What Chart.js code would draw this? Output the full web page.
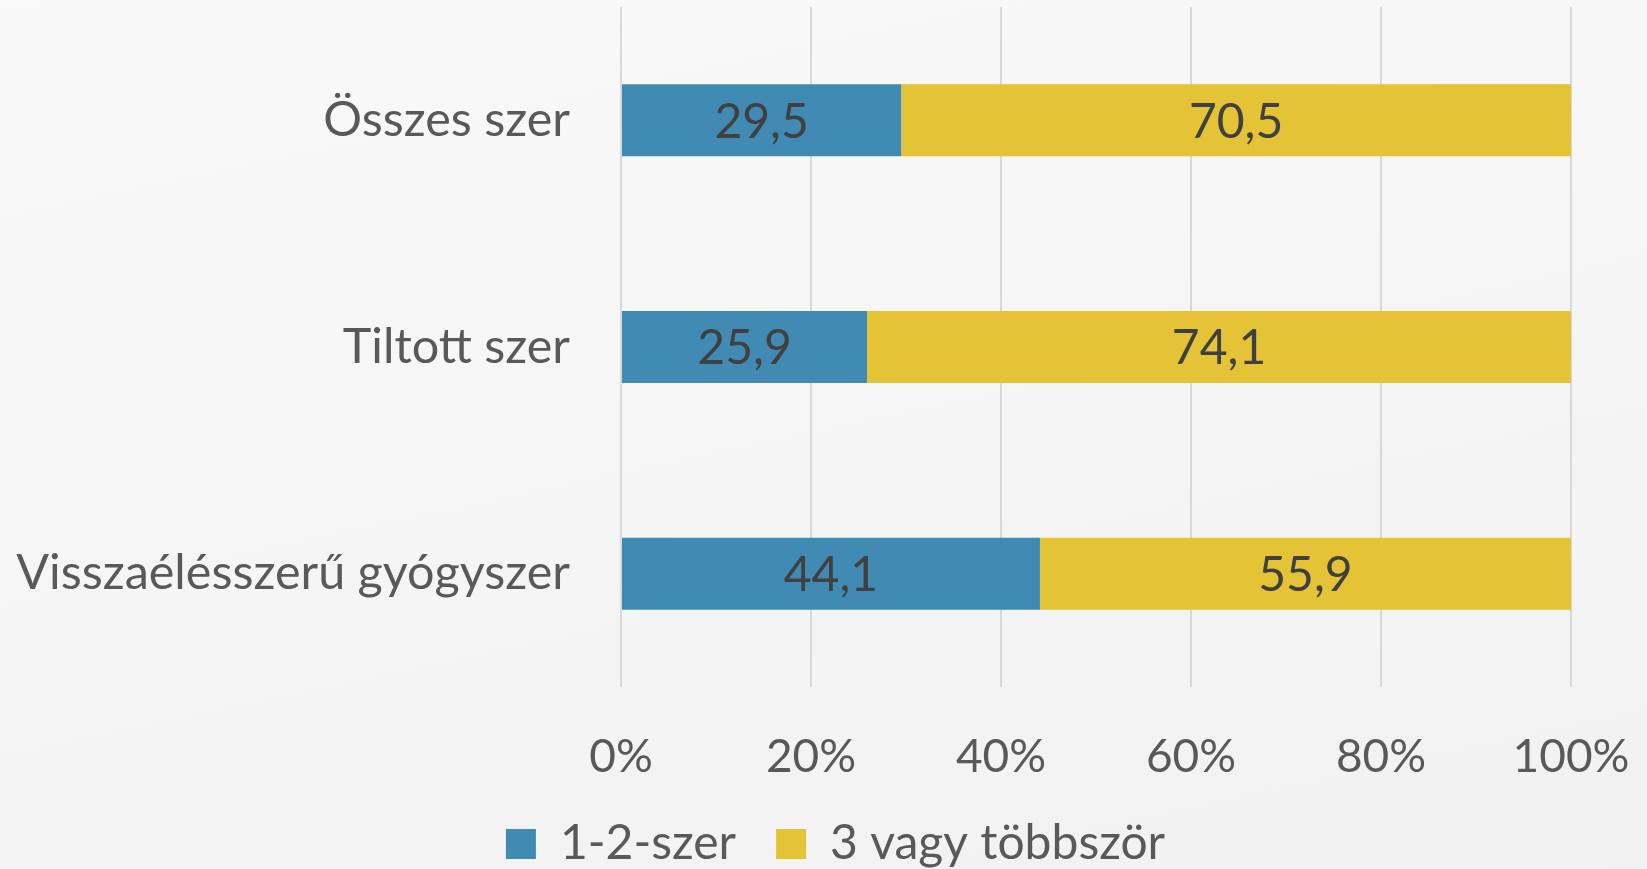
<!DOCTYPE html>
<html>
<head>
<meta charset="utf-8">
<script src="https://cdn.jsdelivr.net/npm/chart.js@4.4.1/dist/chart.umd.min.js"></script>
<style>
  html, body { margin: 0; padding: 0; overflow: hidden; }
  body { width: 1647px; height: 869px; background: linear-gradient(168deg, #f9f9f9 0%, #f6f6f6 45%, #f1f1f1 100%); }
  #wrap { position: relative; width: 1647px; height: 869px; overflow: hidden; }
</style>
</head>
<body>
<div id="wrap"><canvas id="chart"></canvas></div>
<script>
// data
var categories = ["Összes szer", "Tiltott szer", "Visszaélésszerű gyógyszer"];
var seriesNames = ["1-2-szer", "3 vagy többször"];
var onceOrTwice = [29.5, 25.9, 44.1];
var threeOrMore = [70.5, 74.1, 55.9];
var tickLabels = ["0%", "20%", "40%", "60%", "80%", "100%"];

var blue = "#418ab3";
var yellow = "#e5c336";
var textColor = "#595959";

// draws the values in the middle of each bar (comma decimals)
var valueLabels = {
  id: "valueLabels",
  afterDatasetsDraw: function(chart) {
    var ctx = chart.ctx;
    ctx.save();
    ctx.font = "48px Lato";
    ctx.fillStyle = "#404040";
    ctx.textAlign = "center";
    ctx.textBaseline = "middle";
    chart.data.datasets.forEach(function(ds, i) {
      chart.getDatasetMeta(i).data.forEach(function(bar, j) {
        var c = bar.getCenterPoint();
        ctx.fillText(ds.data[j].toFixed(1).replace(".", ","), c.x, c.y + 2);
      });
    });
    ctx.restore();
  }
};

// legend in the picture sits a bit right of the page centre
var legendShift = {
  id: "legendShift",
  afterLayout: function(chart) {
    chart.legend.left += 12;
    chart.legend.right += 12;
  }
};

var ctx = document.getElementById("chart");

var data = {
  labels: categories,
  datasets: [
    {
      label: seriesNames[0],
      data: onceOrTwice,
      backgroundColor: blue,
      borderWidth: 0,
      barPercentage: 0.318,
      categoryPercentage: 1
    },
    {
      label: seriesNames[1],
      data: threeOrMore,
      backgroundColor: yellow,
      borderWidth: 0,
      barPercentage: 0.318,
      categoryPercentage: 1
    }
  ]
};

var options = {
  indexAxis: "y",
  responsive: false,
  animation: false,
  layout: {
    padding: { top: 7, right: 0, bottom: 0, left: 0 }
  },
  scales: {
    x: {
      stacked: true,
      min: 0,
      max: 100,
      ticks: {
        stepSize: 20,
        maxRotation: 0,
        padding: 47,
        color: textColor,
        font: { family: "Lato", size: 46, lineHeight: 1 },
        callback: function(value, index) { return tickLabels[index]; }
      },
      grid: { color: "#d9d9d9", lineWidth: 2, drawTicks: false },
      border: { display: false },
      afterFit: function(scale) {
        scale.height = 93;
        scale.paddingLeft = 0;
        scale.paddingRight = 76;
      }
    },
    y: {
      stacked: true,
      ticks: {
        padding: 51,
        color: textColor,
        font: { family: "Lato", size: 48.5 }
      },
      grid: { display: false, drawTicks: false },
      border: { display: false },
      afterFit: function(scale) {
        scale.width = 621;
        scale.paddingTop = 0;
        scale.paddingBottom = 0;
      }
    }
  },
  plugins: {
    legend: {
      display: true,
      position: "bottom",
      labels: {
        color: textColor,
        font: { family: "Lato", size: 48 },
        boxWidth: 30,
        boxHeight: 30,
        padding: 40
      }
    },
    tooltip: { enabled: false }
  }
};

// canvas is a little taller than the window so the legend sits as low as in the picture
ctx.width = 1647;
ctx.height = 878;

var chart = new Chart(ctx, {
  type: "bar",
  data: data,
  options: options,
  plugins: [valueLabels, legendShift]
});
</script>
</body>
</html>
